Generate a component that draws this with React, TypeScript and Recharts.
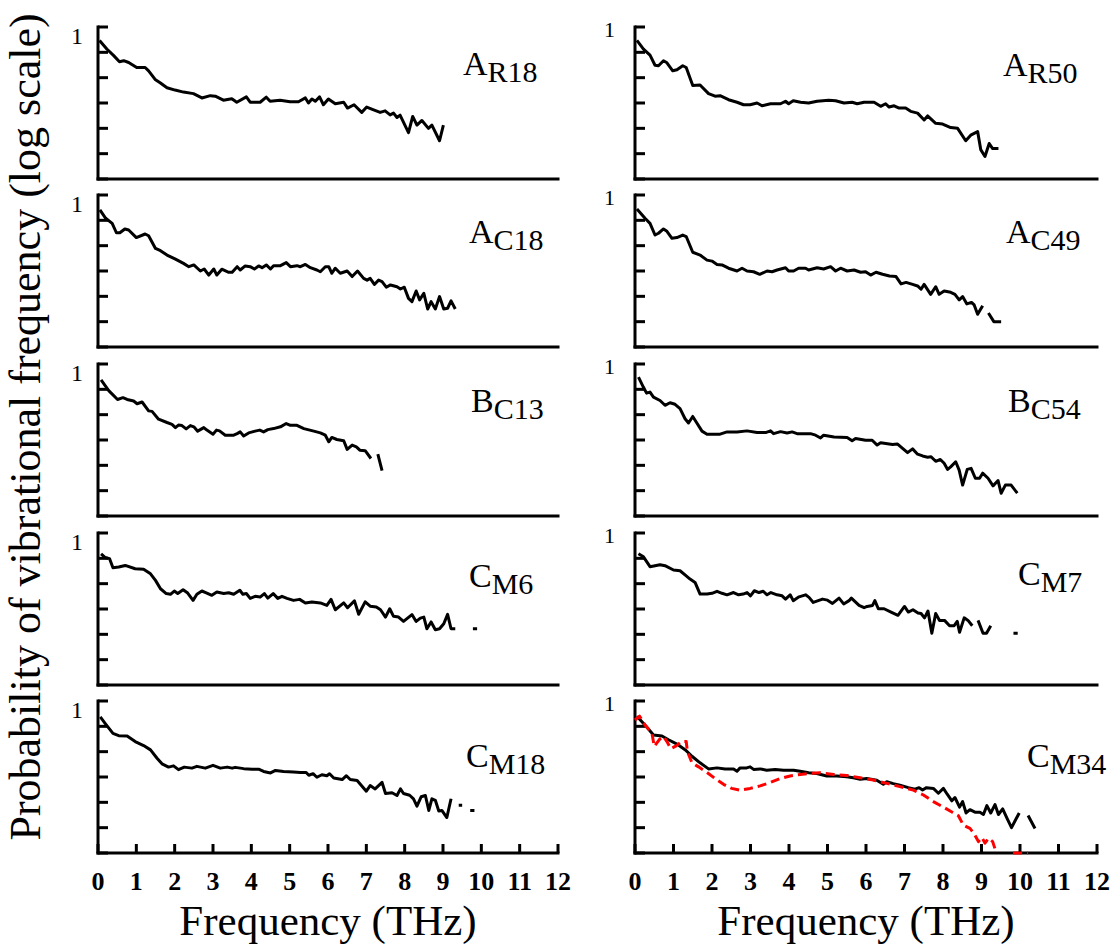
import { LineChart, Line, XAxis, YAxis } from "recharts";

type Pt = [number, number | null]; // [frequency THz, log10 probability]

const SERIF = "'Liberation Serif', 'DejaVu Serif', serif";

const DECADES = [1, 1e-1, 1e-2, 1e-3, 1e-4, 1e-5, 1e-6];
const FREQ_TICKS = [0, 1, 2, 3, 4, 5, 6, 7, 8, 9, 10, 11, 12];

// values: [THz, log10(probability)], null = gap in the curve
const AR18: Pt[] = [
  [0.04, -0.53], [0.23, -0.87], [0.41, -1.13], [0.56, -1.37], [0.67, -1.33], [0.8, -1.4], [1.01, -1.6], [1.23, -1.6],
  [1.32, -1.73], [1.49, -2.07], [1.62, -2.2], [1.8, -2.4], [2.01, -2.49], [2.23, -2.57], [2.49, -2.63], [2.71, -2.8],
  [2.93, -2.71], [3.06, -2.73], [3.27, -2.89], [3.49, -2.83], [3.62, -2.97], [3.87, -2.76], [3.97, -2.97], [4.23, -2.97],
  [4.39, -2.77], [4.49, -2.93], [4.75, -2.89], [5.01, -2.95], [5.23, -2.95], [5.41, -2.8], [5.49, -3.0], [5.58, -2.84],
  [5.67, -2.93], [5.78, -2.76], [5.88, -3.07], [6.01, -2.84], [6.19, -3.03], [6.41, -2.97], [6.51, -3.2], [6.68, -3.07],
  [6.88, -3.37], [7.01, -3.16], [7.19, -3.27], [7.36, -3.37], [7.49, -3.31], [7.62, -3.47], [7.71, -3.4], [7.8, -3.57],
  [7.88, -3.48], [8.1, -4.17], [8.21, -3.53], [8.32, -3.87], [8.45, -3.69], [8.62, -4.0], [8.71, -3.87], [8.91, -4.49],
  [9.01, -3.87],
];

const AR50: Pt[] = [
  [0.05, -0.53], [0.22, -0.87], [0.39, -1.11], [0.52, -1.51], [0.61, -1.53], [0.74, -1.33], [0.82, -1.4], [0.98, -1.73],
  [1.09, -1.69], [1.24, -1.53], [1.33, -1.6], [1.5, -2.31], [1.69, -2.29], [1.91, -2.63], [2.08, -2.73], [2.21, -2.71],
  [2.43, -2.87], [2.65, -2.97], [2.82, -3.07], [2.99, -3.07], [3.17, -3.0], [3.3, -3.11], [3.52, -3.03], [3.78, -3.03],
  [3.91, -2.93], [3.99, -3.03], [4.11, -2.91], [4.3, -2.97], [4.51, -3.0], [4.73, -2.93], [5.03, -2.89], [5.21, -2.91],
  [5.43, -3.0], [5.64, -2.97], [5.77, -3.03], [5.95, -2.97], [6.21, -2.97], [6.38, -3.13], [6.51, -3.03], [6.6, -3.16],
  [6.73, -3.11], [6.86, -3.2], [7.03, -3.2], [7.16, -3.33], [7.34, -3.4], [7.51, -3.67], [7.6, -3.51], [7.81, -3.8],
  [7.99, -3.83], [8.2, -3.97], [8.38, -4.0], [8.59, -4.49], [8.72, -4.27], [8.9, -4.13], [8.98, -4.84], [9.09, -5.11],
  [9.2, -4.6], [9.29, -4.8], [9.44, -4.8],
];

const AC18: Pt[] = [
  [0.05, -0.59], [0.2, -0.92], [0.37, -1.12], [0.48, -1.49], [0.57, -1.49], [0.7, -1.34], [0.8, -1.38], [1.0, -1.68],
  [1.23, -1.54], [1.32, -1.61], [1.5, -2.11], [1.63, -2.2], [1.8, -2.37], [2.02, -2.53], [2.23, -2.7], [2.37, -2.83],
  [2.5, -2.76], [2.67, -3.0], [2.77, -2.92], [2.89, -3.16], [3.02, -2.92], [3.1, -3.16], [3.23, -2.93], [3.41, -3.05],
  [3.5, -3.05], [3.63, -2.83], [3.71, -2.96], [3.84, -2.8], [3.97, -2.83], [4.08, -2.92], [4.19, -2.8], [4.28, -2.87],
  [4.39, -2.76], [4.5, -2.92], [4.58, -2.79], [4.76, -2.79], [4.91, -2.67], [5.02, -2.83], [5.19, -2.79], [5.28, -2.83],
  [5.41, -2.74], [5.54, -2.87], [5.71, -2.96], [5.8, -3.03], [5.93, -2.83], [6.02, -2.83], [6.1, -3.09], [6.19, -2.89],
  [6.32, -3.09], [6.5, -3.0], [6.63, -3.22], [6.77, -3.0], [6.93, -3.29], [7.02, -3.36], [7.1, -3.29], [7.21, -3.53],
  [7.32, -3.36], [7.41, -3.42], [7.52, -3.64], [7.63, -3.55], [7.8, -3.62], [7.89, -3.71], [7.99, -3.64], [8.1, -4.08],
  [8.19, -4.21], [8.3, -3.79], [8.39, -4.14], [8.5, -3.88], [8.6, -4.5], [8.69, -4.21], [8.8, -4.5], [8.91, -4.01],
  [9.02, -4.5], [9.12, -4.47], [9.21, -4.18], [9.32, -4.5],
];

const AC49: Pt[] = [
  [0.05, -0.55], [0.26, -0.92], [0.39, -1.12], [0.52, -1.58], [0.61, -1.51], [0.74, -1.34], [0.82, -1.42], [0.96, -1.71],
  [1.09, -1.68], [1.24, -1.58], [1.33, -1.64], [1.5, -2.26], [1.69, -2.37], [1.87, -2.57], [2.0, -2.61], [2.13, -2.74],
  [2.26, -2.76], [2.43, -2.89], [2.65, -3.0], [2.78, -2.89], [2.91, -3.0], [3.08, -3.03], [3.24, -3.13], [3.43, -3.0],
  [3.56, -3.03], [3.69, -2.96], [3.91, -2.87], [3.99, -3.0], [4.12, -3.0], [4.25, -2.89], [4.43, -2.89], [4.51, -2.96],
  [4.73, -2.87], [4.9, -2.92], [5.08, -2.83], [5.21, -3.0], [5.34, -2.89], [5.51, -3.0], [5.69, -2.96], [5.86, -3.05],
  [5.99, -3.03], [6.12, -3.16], [6.26, -3.05], [6.43, -3.13], [6.61, -3.2], [6.78, -3.22], [6.91, -3.51], [7.04, -3.45],
  [7.21, -3.53], [7.34, -3.59], [7.43, -3.72], [7.51, -3.53], [7.68, -3.92], [7.81, -3.62], [7.9, -3.92], [8.03, -3.79],
  [8.2, -3.84], [8.31, -3.92], [8.42, -4.14], [8.51, -4.01], [8.62, -4.3], [8.74, -4.24], [8.81, -4.34], [8.9, -4.71],
  [9.03, -4.37], [9.1, null], [9.18, -4.66], [9.32, -5.0], [9.51, -5.0],
];

const BC13: Pt[] = [
  [0.08, -0.63], [0.28, -1.05], [0.51, -1.4], [0.65, -1.33], [0.76, -1.4], [0.93, -1.46], [1.02, -1.57], [1.15, -1.5],
  [1.32, -1.85], [1.41, -1.87], [1.58, -2.18], [1.8, -2.31], [1.93, -2.38], [2.02, -2.51], [2.1, -2.41], [2.19, -2.43],
  [2.3, -2.56], [2.41, -2.43], [2.5, -2.48], [2.6, -2.65], [2.76, -2.51], [2.84, -2.61], [3.0, -2.77], [3.09, -2.61],
  [3.17, -2.64], [3.32, -2.81], [3.54, -2.81], [3.63, -2.75], [3.71, -2.68], [3.8, -2.84], [3.93, -2.72], [4.1, -2.65],
  [4.22, -2.61], [4.32, -2.68], [4.43, -2.59], [4.58, -2.55], [4.76, -2.48], [4.91, -2.35], [5.02, -2.42], [5.19, -2.42],
  [5.37, -2.55], [5.63, -2.65], [5.8, -2.72], [5.93, -2.81], [6.02, -3.07], [6.1, -2.9], [6.23, -2.98], [6.41, -3.03],
  [6.5, -3.37], [6.63, -3.2], [6.74, -3.27], [6.83, -3.4], [6.97, -3.42], [7.12, -3.73], [7.2, null], [7.3, -3.56],
  [7.41, -4.21],
];

const BC54: Pt[] = [
  [0.09, -0.52], [0.22, -0.92], [0.3, -1.15], [0.39, -1.11], [0.48, -1.31], [0.65, -1.44], [0.78, -1.63], [0.91, -1.53],
  [1.04, -1.59], [1.17, -1.76], [1.3, -2.16], [1.39, -2.33], [1.5, -2.07], [1.59, -2.29], [1.74, -2.65], [1.87, -2.77],
  [2.04, -2.77], [2.21, -2.77], [2.39, -2.68], [2.65, -2.68], [2.91, -2.64], [3.17, -2.7], [3.41, -2.7], [3.52, -2.64],
  [3.6, -2.75], [3.78, -2.67], [3.95, -2.72], [4.08, -2.68], [4.21, -2.75], [4.56, -2.75], [4.69, -2.81], [4.82, -2.92],
  [4.9, -2.81], [5.17, -2.88], [5.51, -2.9], [5.64, -3.03], [5.73, -2.94], [5.99, -3.01], [6.16, -3.01], [6.29, -3.2],
  [6.38, -3.11], [6.69, -3.18], [6.82, -3.16], [6.95, -3.33], [7.08, -3.5], [7.21, -3.35], [7.34, -3.56], [7.47, -3.63],
  [7.6, -3.68], [7.69, -3.66], [7.81, -3.84], [7.93, -3.77], [8.03, -3.92], [8.12, -4.16], [8.2, -4.06], [8.33, -3.86],
  [8.42, -4.19], [8.51, -4.78], [8.63, -4.16], [8.73, -4.12], [8.84, -4.51], [8.95, -4.51], [9.03, -4.31], [9.17, -4.51],
  [9.3, -4.81], [9.43, -4.6], [9.51, -5.1], [9.62, -4.78], [9.77, -4.78], [9.93, -5.1],
];

const CM6: Pt[] = [
  [0.08, -0.82], [0.19, -0.97], [0.3, -1.01], [0.39, -1.37], [0.54, -1.34], [0.71, -1.28], [0.97, -1.41], [1.19, -1.43],
  [1.37, -1.61], [1.5, -1.87], [1.63, -2.2], [1.78, -2.39], [1.89, -2.42], [1.99, -2.29], [2.08, -2.39], [2.22, -2.24],
  [2.34, -2.37], [2.48, -2.66], [2.58, -2.42], [2.71, -2.29], [2.84, -2.37], [2.97, -2.46], [3.1, -2.33], [3.28, -2.39],
  [3.41, -2.36], [3.54, -2.42], [3.7, -2.26], [3.78, -2.42], [3.87, -2.39], [3.97, -2.58], [4.1, -2.5], [4.23, -2.53],
  [4.34, -2.39], [4.43, -2.57], [4.57, -2.39], [4.69, -2.58], [4.8, -2.5], [4.93, -2.58], [5.1, -2.66], [5.26, -2.62],
  [5.41, -2.76], [5.58, -2.72], [5.8, -2.76], [5.97, -2.86], [6.08, -2.62], [6.19, -3.03], [6.41, -2.76], [6.51, -2.95],
  [6.69, -2.68], [6.8, -3.21], [6.97, -2.72], [7.1, -2.89], [7.26, -2.92], [7.37, -3.03], [7.5, -3.32], [7.61, -2.99],
  [7.71, -3.29], [7.84, -3.32], [7.97, -3.49], [8.19, -3.22], [8.3, -3.49], [8.41, -3.36], [8.5, -3.32], [8.58, -3.78],
  [8.69, -3.51], [8.8, -3.82], [8.91, -3.78], [9.02, -3.58], [9.12, -3.21], [9.21, -3.78], [9.32, -3.78], [9.55, null],
  [9.78, -3.78], [9.89, -3.78],
];

const CM7: Pt[] = [
  [0.09, -0.82], [0.22, -0.94], [0.39, -1.33], [0.65, -1.25], [0.78, -1.29], [1.0, -1.46], [1.17, -1.49], [1.33, -1.69],
  [1.43, -1.82], [1.56, -1.95], [1.69, -2.41], [1.87, -2.41], [2.0, -2.38], [2.13, -2.3], [2.26, -2.38], [2.39, -2.44],
  [2.56, -2.35], [2.69, -2.44], [2.81, -2.41], [2.91, -2.35], [3.0, -2.48], [3.1, -2.28], [3.22, -2.35], [3.33, -2.3],
  [3.43, -2.44], [3.53, -2.35], [3.69, -2.44], [3.82, -2.48], [3.91, -2.61], [4.03, -2.44], [4.11, -2.67], [4.26, -2.52],
  [4.43, -2.44], [4.52, -2.54], [4.63, -2.74], [4.87, -2.61], [5.0, -2.65], [5.13, -2.78], [5.3, -2.57], [5.42, -2.8],
  [5.56, -2.67], [5.62, -2.57], [5.82, -2.86], [5.95, -2.95], [6.03, -2.9], [6.17, -2.86], [6.23, -2.67], [6.32, -2.99],
  [6.47, -2.99], [6.65, -3.12], [6.83, -3.25], [7.0, -2.9], [7.1, -3.12], [7.22, -3.03], [7.35, -3.16], [7.43, -3.18],
  [7.52, -3.35], [7.61, -3.08], [7.71, -3.96], [7.81, -3.18], [7.91, -3.45], [8.04, -3.45], [8.17, -3.66], [8.29, -3.66],
  [8.37, -3.49], [8.43, -3.92], [8.55, -3.35], [8.65, -3.45], [8.76, -3.66], [8.84, null], [8.91, -3.45], [9.04, -3.96],
  [9.13, -3.96], [9.24, -3.66], [9.5, null], [9.83, -3.96], [9.94, -3.96],
];

const CM18: Pt[] = [
  [0.06, -0.63], [0.19, -0.89], [0.39, -1.28], [0.54, -1.37], [0.76, -1.38], [0.97, -1.6], [1.19, -1.76], [1.37, -1.93],
  [1.54, -2.26], [1.67, -2.48], [1.84, -2.61], [1.97, -2.56], [2.1, -2.71], [2.25, -2.61], [2.45, -2.65], [2.58, -2.58],
  [2.8, -2.65], [3.0, -2.54], [3.19, -2.65], [3.37, -2.61], [3.5, -2.65], [3.58, -2.62], [3.8, -2.67], [4.02, -2.69],
  [4.19, -2.69], [4.32, -2.78], [4.5, -2.84], [4.63, -2.74], [4.84, -2.78], [5.1, -2.8], [5.28, -2.82], [5.43, -2.82],
  [5.5, -2.93], [5.61, -2.87], [5.71, -3.01], [5.84, -2.91], [5.97, -2.95], [6.04, -2.87], [6.15, -3.04], [6.37, -3.1],
  [6.48, -2.95], [6.58, -3.1], [6.76, -3.14], [7.0, -3.56], [7.1, -3.34], [7.23, -3.47], [7.41, -3.21], [7.5, -3.65],
  [7.67, -3.62], [7.8, -3.73], [7.89, -3.47], [7.97, -3.65], [8.13, -3.72], [8.23, -3.86], [8.32, -4.15], [8.43, -3.78],
  [8.54, -3.73], [8.63, -4.32], [8.71, -3.86], [8.8, -3.92], [8.89, -4.34], [8.97, -4.32], [9.1, -4.6], [9.21, -3.86],
  [9.3, null], [9.41, -4.12], [9.5, -4.12], [9.6, null], [9.71, -4.32], [9.82, -4.32],
];

const CM34: Pt[] = [
  [0.05, -0.6], [0.18, -0.82], [0.31, -1.04], [0.48, -1.34], [0.7, -1.38], [0.87, -1.53], [1.09, -1.7], [1.3, -1.92],
  [1.48, -2.18], [1.69, -2.44], [1.91, -2.68], [2.13, -2.64], [2.34, -2.68], [2.56, -2.68], [2.65, -2.77], [2.73, -2.64],
  [2.9, -2.64], [2.99, -2.6], [3.08, -2.7], [3.25, -2.68], [3.42, -2.73], [3.64, -2.7], [3.86, -2.73], [4.12, -2.73],
  [4.29, -2.77], [4.51, -2.83], [4.72, -2.86], [4.98, -2.96], [5.24, -2.96], [5.5, -2.99], [5.67, -3.03], [5.85, -3.09],
  [6.02, -3.06], [6.28, -3.13], [6.45, -3.29], [6.54, -3.19], [6.71, -3.26], [6.88, -3.32], [7.1, -3.42], [7.27, -3.48],
  [7.38, -3.42], [7.47, -3.51], [7.57, -3.42], [7.75, -3.45], [7.88, -3.64], [8.01, -3.45], [8.11, -3.68], [8.23, -3.94],
  [8.31, -3.81], [8.43, -4.19], [8.51, -3.97], [8.6, -4.42], [8.7, -4.29], [8.83, -4.39], [8.96, -4.39], [9.05, -4.48],
  [9.14, -4.13], [9.24, -4.42], [9.35, -4.09], [9.44, -4.48], [9.55, -4.26], [9.67, -4.65], [9.78, -5.0], [9.9, -4.65],
  [9.98, -4.42], [10.1, null], [10.21, -4.52], [10.39, -5.03],
];

// red dashed comparison curve in the C_M34 panel
const CM34_REF: Pt[] = [
  [0.0, -0.75], [0.12, -0.6], [0.26, -0.95], [0.44, -1.27], [0.5, -1.79], [0.64, -1.51], [0.74, -1.4], [0.83, -1.6],
  [0.93, -1.88], [1.07, -1.77], [1.21, -1.6], [1.33, -1.6], [1.36, -1.99], [1.48, -2.44], [1.65, -2.6], [1.86, -2.81],
  [2.08, -3.06], [2.3, -3.29], [2.51, -3.45], [2.73, -3.52], [2.99, -3.45], [3.25, -3.35], [3.51, -3.22], [3.77, -3.06],
  [4.03, -2.96], [4.29, -2.9], [4.55, -2.86], [4.81, -2.83], [5.16, -2.9], [5.5, -2.94], [5.85, -3.03], [6.19, -3.12],
  [6.54, -3.25], [6.88, -3.38], [7.23, -3.52], [7.49, -3.71], [7.75, -3.97], [8.01, -4.19], [8.23, -4.38], [8.4, -4.53],
  [8.53, -4.9], [8.7, -5.03], [8.8, -5.22], [8.92, -5.55], [9.01, -5.39], [9.09, -5.61], [9.18, -5.42], [9.29, -5.55],
  [9.38, -5.97], [9.6, null], [9.82, -6.0], [10.21, -6.0],
];

// layout
const COLS = [
  { left: 98, width: 460, oneSize: 24, oneMargin: 25, oneDy: 8 },
  { left: 635, width: 462, oneSize: 22, oneMargin: 30, oneDy: 2 },
];
const ROW_TOPS = [27, 195, 364, 532.5, 701];
const PLOT_H = 152;
const Y_W = 70;
const M_TOP = 10;
const M_RIGHT = 15;

type Panel = {
  col: number;
  row: number;
  main: string;
  sub: string;
  lx: number;
  ly: number;
  curves: { pts: Pt[]; color: string; dash?: string }[];
};

const PANELS: Panel[] = [
  { col: 0, row: 0, main: "A", sub: "R18", lx: 463, ly: 75, curves: [{ pts: AR18, color: "#000" }] },
  { col: 1, row: 0, main: "A", sub: "R50", lx: 1003, ly: 76, curves: [{ pts: AR50, color: "#000" }] },
  { col: 0, row: 1, main: "A", sub: "C18", lx: 469, ly: 243, curves: [{ pts: AC18, color: "#000" }] },
  { col: 1, row: 1, main: "A", sub: "C49", lx: 1006, ly: 243, curves: [{ pts: AC49, color: "#000" }] },
  { col: 0, row: 2, main: "B", sub: "C13", lx: 471, ly: 412, curves: [{ pts: BC13, color: "#000" }] },
  { col: 1, row: 2, main: "B", sub: "C54", lx: 1008, ly: 412, curves: [{ pts: BC54, color: "#000" }] },
  { col: 0, row: 3, main: "C", sub: "M6", lx: 469, ly: 587, curves: [{ pts: CM6, color: "#000" }] },
  { col: 1, row: 3, main: "C", sub: "M7", lx: 1018, ly: 585, curves: [{ pts: CM7, color: "#000" }] },
  { col: 0, row: 4, main: "C", sub: "M18", lx: 466, ly: 767, curves: [{ pts: CM18, color: "#000" }] },
  {
    col: 1, row: 4, main: "C", sub: "M34", lx: 1027, ly: 767,
    curves: [{ pts: CM34, color: "#000" }, { pts: CM34_REF, color: "#ff0000", dash: "9 5" }],
  },
];

const toRows = (pts: Pt[]) => pts.map(([f, lp]) => ({ f, p: lp === null ? null : Math.pow(10, lp) }));

const axisStroke = { stroke: "#000", strokeWidth: 3, strokeLinecap: "square" as const };

function PanelChart({ panel }: { panel: Panel }) {
  const col = COLS[panel.col];
  const top = ROW_TOPS[panel.row];
  const isBottom = panel.row === ROW_TOPS.length - 1;
  const xH = isBottom ? 60 : 6;
  const w = Y_W + col.width + M_RIGHT;
  const h = M_TOP + PLOT_H + xH;

  return (
    <div style={{ position: "absolute", left: col.left - Y_W, top: top - M_TOP }}>
      <LineChart width={w} height={h} margin={{ top: M_TOP, right: M_RIGHT, bottom: 0, left: 0 }}>
        <XAxis
          dataKey="f"
          type="number"
          domain={[0, 12]}
          ticks={FREQ_TICKS}
          interval={0}
          height={xH}
          axisLine={axisStroke}
          tickLine={{ stroke: "#000", strokeWidth: 3 }}
          tickSize={-9}
          tickMargin={28}
          tick={
            isBottom
              ? { fontSize: 26, fontWeight: "bold", fill: "#000", fontFamily: SERIF }
              : false
          }
        />
        <YAxis
          type="number"
          scale="log"
          domain={[1e-6, 1]}
          ticks={DECADES}
          interval={0}
          width={Y_W}
          axisLine={axisStroke}
          tickLine={{ stroke: "#000", strokeWidth: 3 }}
          tickSize={-10}
          tickMargin={col.oneMargin}
          // only the top decade carries a label
          tickFormatter={(v: number) => (v === 1 ? "1" : "")}
          tick={{ fontSize: col.oneSize, fill: "#000", fontFamily: SERIF, dy: col.oneDy }}
        />
        {panel.curves.map((c, i) => (
          <Line
            key={i}
            data={toRows(c.pts)}
            dataKey="p"
            type="linear"
            stroke={c.color}
            strokeWidth={3}
            strokeDasharray={c.dash}
            strokeLinejoin="round"
            dot={false}
            activeDot={false}
            connectNulls={false}
            isAnimationActive={false}
            zIndex={600}
          />
        ))}
      </LineChart>
    </div>
  );
}

export default function App() {
  return (
    <div
      style={{
        position: "absolute",
        left: 0,
        top: 0,
        width: 1116,
        height: 952,
        background: "#fff",
        fontFamily: SERIF,
      }}
    >
      {PANELS.map((p) => (
        <PanelChart key={p.main + p.sub} panel={p} />
      ))}
      <svg
        width={1116}
        height={952}
        style={{ position: "absolute", left: 0, top: 0, pointerEvents: "none" }}
      >
        <text
          transform="translate(40,427) rotate(-90)"
          textAnchor="middle"
          fill="#000"
          style={{ fontSize: 44, fontFamily: SERIF }}
        >
          Probability of vibrational frequency (log scale)
        </text>
        {COLS.map((c, i) => (
          <text
            key={i}
            x={c.left + c.width / 2}
            y={935}
            textAnchor="middle"
            fill="#000"
            style={{ fontSize: 43, fontFamily: SERIF }}
          >
            Frequency (THz)
          </text>
        ))}
        {PANELS.map((p) => (
          <text key={p.main + p.sub} x={p.lx} y={p.ly} fill="#000" style={{ fontSize: 34, fontFamily: SERIF }}>
            {p.main}
            <tspan dy={7} style={{ fontSize: 30 }}>
              {p.sub}
            </tspan>
          </text>
        ))}
      </svg>
    </div>
  );
}
